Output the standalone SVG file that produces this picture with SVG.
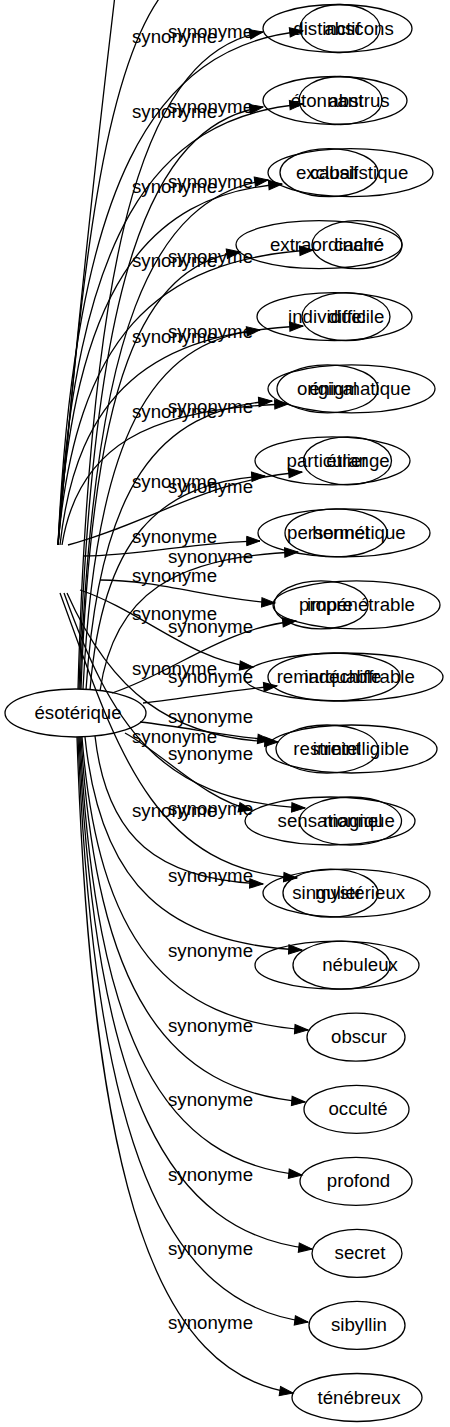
<svg xmlns="http://www.w3.org/2000/svg" width="450" height="1427" viewBox="0 0 450 1427">
<defs>
<style>
text{font-family:"Liberation Sans",Arial,sans-serif;font-size:18.67px;fill:#000}
.n ellipse{fill:none;stroke:#000;stroke-width:1.3}
.n text{text-anchor:middle}
.e path{fill:none;stroke:#000;stroke-width:1.3;marker-end:url(#ah)}
.l text{text-anchor:start}
</style>
<marker id="ah" markerUnits="userSpaceOnUse" markerWidth="16" markerHeight="12" refX="13.3" refY="4.7" orient="auto" overflow="visible">
<path d="M0,0 L13.3,4.7 L0,9.4 z" fill="#000" stroke="#000" stroke-width="1"/>
</marker>
</defs>
<rect width="450" height="1427" fill="#fff"/>
<g id="edges" class="e">
<path d="M58,545 C75,350 100,120 118,-30"/>
<path d="M58,545 C80,300 100,60 170,-15"/>
<path d="M58,545 C75.2,185.2 151.1,46.4 303,31"/>
<path d="M58,545 C75.2,236.3 151.1,117.2 303,104"/>
<path d="M58,545 C73.7,292.3 143.1,194.8 282,184"/>
<path d="M58,545 C75.9,338.5 154.9,258.9 313,250"/>
<path d="M60,545 C77,391.7 152.3,332.6 303,326"/>
<path d="M62,545 C77.8,446.3 147.9,408.2 288,404"/>
<path d="M68,545 C150,523 208.4,479.3 302,472"/>
<path d="M83,556 C140,556 200,541 260,541"/>
<path d="M100,580 C160,580 215,600 275,603"/>
<path d="M80,590 C140,610 190,660 253,667"/>
<path d="M67,593 C110,690 170,740 278,742"/>
<path d="M64,593 C110,720 155.6,801.6 305,808"/>
<path d="M60,593 C115,743 150,869.5 297,878"/>
<path d="M78,689 C91,229.1 148.3,51.7 263,32"/>
<path d="M79,689 C91.9,281.6 148.9,124.5 263,107"/>
<path d="M80,689 C93.2,332.7 151.4,195.3 268,180"/>
<path d="M81,689 C92.1,383.1 141.4,265.1 240,252"/>
<path d="M83,689 C95.4,437.7 150.3,340.8 260,330"/>
<path d="M86,690 C99,487.7 156.7,409.7 272,401"/>
<path d="M90,690 C102.3,540.2 156.5,482.4 265,476"/>
<path d="M100,691 C113.9,593.7 175.2,556.2 298,552"/>
<path d="M112,693 C176.4,671.4 222.4,628.2 296,621"/>
<path d="M143,703 C190,698 230,690 277,686"/>
<path d="M140,722 C185,727 225,736 271,740"/>
<path d="M125,733 C165,755 205,800 252,810"/>
<path d="M95,736 C106.8,839.6 158.8,879.6 263,884"/>
<path d="M85,737 C100.2,886.1 167.5,943.6 302,950"/>
<path d="M82,737 C97.8,942.1 167.9,1021.2 308,1030"/>
<path d="M81,737 C96.7,992.5 166.1,1091 305,1102"/>
<path d="M80,737 C95.5,1043.6 164.4,1161.9 302,1175"/>
<path d="M79,737 C95.3,1095.4 167.5,1233.6 312,1249"/>
<path d="M78,737 C94.1,1146.5 165.4,1304.5 308,1322"/>
<path d="M77,737 C92.1,1196.2 159.1,1373.3 293,1393"/>
</g>
<g id="labels" class="l">
<text x="132" y="43">synonyme</text>
<text x="132" y="118">synonyme</text>
<text x="132" y="193">synonyme</text>
<text x="132" y="267">synonyme</text>
<text x="132" y="343">synonyme</text>
<text x="132" y="418">synonyme</text>
<text x="132" y="488">synonyme</text>
<text x="132" y="543">synonyme</text>
<text x="132" y="582">synonyme</text>
<text x="132" y="620">synonyme</text>
<text x="132" y="675">synonyme</text>
<text x="132" y="743">synonyme</text>
<text x="132" y="817">synonyme</text>
<text x="168" y="38">synonyme</text>
<text x="168" y="113">synonyme</text>
<text x="168" y="188">synonyme</text>
<text x="168" y="263">synonyme</text>
<text x="168" y="338">synonyme</text>
<text x="168" y="413">synonyme</text>
<text x="168" y="493">synonyme</text>
<text x="168" y="563">synonyme</text>
<text x="168" y="633">synonyme</text>
<text x="168" y="683">synonyme</text>
<text x="168" y="723">synonyme</text>
<text x="168" y="760">synonyme</text>
<text x="168" y="815">synonyme</text>
<text x="168" y="882">synonyme</text>
<text x="168" y="957">synonyme</text>
<text x="168" y="1032">synonyme</text>
<text x="168" y="1106">synonyme</text>
<text x="168" y="1181">synonyme</text>
<text x="168" y="1255">synonyme</text>
<text x="168" y="1329">synonyme</text>
</g>
<g id="n-esoterique" class="n"><ellipse cx="75.5" cy="713" rx="70.5" ry="24"/><text x="78" y="719">ésotérique</text></g>
<g id="n-distinctif" class="n"><ellipse cx="340" cy="28.5" rx="40" ry="24"/><text x="327" y="34.5">distinctif</text></g>
<g id="n-abscons" class="n"><ellipse cx="337.5" cy="28.5" rx="74.5" ry="24"/><text x="359" y="34.5">abscons</text></g>
<g id="n-etonnant" class="n"><ellipse cx="340.5" cy="100.5" rx="41.5" ry="24"/><text x="327" y="106.5">étonnant</text></g>
<g id="n-abstrus" class="n"><ellipse cx="335" cy="100.5" rx="72" ry="24"/><text x="359" y="106.5">abstrus</text></g>
<g id="n-exclusif" class="n"><ellipse cx="329" cy="172.6" rx="49" ry="24"/><text x="327" y="178.6">exclusif</text></g>
<g id="n-cabalistique" class="n"><ellipse cx="350.5" cy="172.6" rx="82.5" ry="24"/><text x="359" y="178.6">cabalistique</text></g>
<g id="n-extraordinaire" class="n"><ellipse cx="319" cy="244.7" rx="83" ry="24"/><text x="327" y="250.7">extraordinaire</text></g>
<g id="n-cache" class="n"><ellipse cx="357" cy="244.7" rx="45" ry="24"/><text x="359" y="250.7">caché</text></g>
<g id="n-individuel" class="n"><ellipse cx="334.5" cy="316.7" rx="77.5" ry="24"/><text x="327" y="322.7">individuel</text></g>
<g id="n-difficile" class="n"><ellipse cx="346" cy="316.7" rx="44" ry="24"/><text x="356" y="322.7">difficile</text></g>
<g id="n-original" class="n"><ellipse cx="327.5" cy="388.8" rx="50.5" ry="24"/><text x="327" y="394.8">original</text></g>
<g id="n-enigmatique" class="n"><ellipse cx="351.5" cy="388.8" rx="83.5" ry="24"/><text x="360" y="394.8">énigmatique</text></g>
<g id="n-particulier" class="n"><ellipse cx="332.5" cy="460.8" rx="77.5" ry="24"/><text x="327" y="466.8">particulier</text></g>
<g id="n-etrange" class="n"><ellipse cx="347.5" cy="460.8" rx="44" ry="24"/><text x="358" y="466.8">étrange</text></g>
<g id="n-personnel" class="n"><ellipse cx="344" cy="532.9" rx="86" ry="24"/><text x="328" y="538.9">personnel</text></g>
<g id="n-hermetique" class="n"><ellipse cx="336" cy="532.9" rx="51" ry="24"/><text x="359" y="538.9">hermétique</text></g>
<g id="n-propre" class="n"><ellipse cx="321" cy="604.9" rx="47" ry="24"/><text x="326" y="610.9">propre</text></g>
<g id="n-impenetrable" class="n"><ellipse cx="356.5" cy="604.9" rx="83.5" ry="24"/><text x="361" y="610.9">impénétrable</text></g>
<g id="n-remarquable" class="n"><ellipse cx="334" cy="677" rx="66" ry="24"/><text x="329" y="683">remarquable</text></g>
<g id="n-indechiffrable" class="n"><ellipse cx="343.5" cy="677" rx="99.5" ry="24"/><text x="359.5" y="683">indéchiffrable</text></g>
<g id="n-restreint" class="n"><ellipse cx="327" cy="749" rx="51" ry="24"/><text x="327" y="755">restreint</text></g>
<g id="n-inintelligible" class="n"><ellipse cx="351.5" cy="749" rx="85.5" ry="24"/><text x="361" y="755">inintelligible</text></g>
<g id="n-sensationnel" class="n"><ellipse cx="330" cy="821" rx="85" ry="24"/><text x="330" y="827">sensationnel</text></g>
<g id="n-magique" class="n"><ellipse cx="350.5" cy="821" rx="51" ry="24"/><text x="359" y="827">magique</text></g>
<g id="n-singulier" class="n"><ellipse cx="330.5" cy="893.1" rx="47.5" ry="24"/><text x="327" y="899.1">singulier</text></g>
<g id="n-mysterieux" class="n"><ellipse cx="346.5" cy="893.1" rx="83.5" ry="24"/><text x="360" y="899.1">mystérieux</text></g>
<g id="n-row14" class="n"><ellipse cx="337" cy="965.2" rx="82" ry="24"/></g>
<g id="n-nebuleux" class="n"><ellipse cx="341.5" cy="965.2" rx="48.5" ry="24"/><text x="360" y="971.2">nébuleux</text></g>
<g id="n-obscur" class="n"><ellipse cx="356" cy="1037.2" rx="49" ry="24"/><text x="359" y="1043.2">obscur</text></g>
<g id="n-occulte" class="n"><ellipse cx="356.5" cy="1109.3" rx="52.5" ry="24"/><text x="358" y="1115.3">occulté</text></g>
<g id="n-profond" class="n"><ellipse cx="356" cy="1181.3" rx="56" ry="24"/><text x="358.5" y="1187.3">profond</text></g>
<g id="n-secret" class="n"><ellipse cx="357" cy="1253.4" rx="45" ry="24"/><text x="360" y="1259.4">secret</text></g>
<g id="n-sibyllin" class="n"><ellipse cx="357" cy="1325.4" rx="48" ry="24"/><text x="359" y="1331.4">sibyllin</text></g>
<g id="n-tenebreux" class="n"><ellipse cx="357" cy="1397.5" rx="65" ry="24"/><text x="359" y="1403.5">ténébreux</text></g>
</svg>
